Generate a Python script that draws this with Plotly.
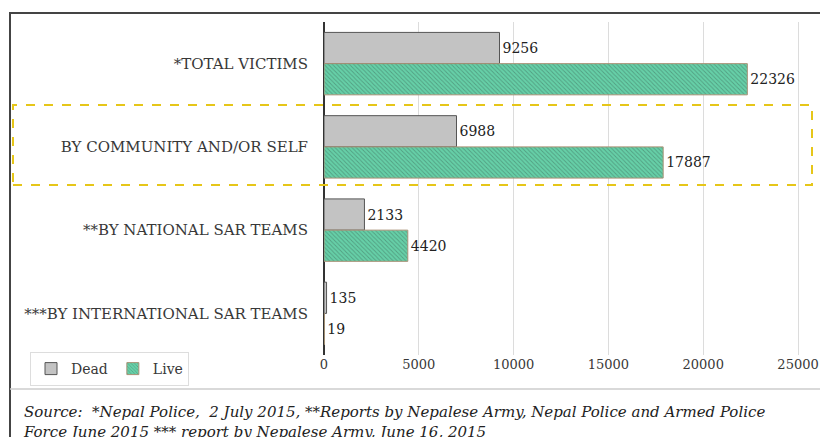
import plotly.graph_objects as go

categories = ["*TOTAL VICTIMS", "BY COMMUNITY AND/OR SELF", "**BY NATIONAL SAR TEAMS", "***BY INTERNATIONAL SAR TEAMS"]
dead = [9256, 6988, 2133, 135]
live = [22326, 17887, 4420, 19]
x_ticks = [0, 5000, 10000, 15000, 20000, 25000]
source_text = ("Source:  *Nepal Police,  2 July 2015, **Reports by Nepalese Army, Nepal Police and Armed Police<br>"
               "Force June 2015 *** report by Nepalese Army, June 16, 2015")

OFF = 8  # page body margin
W, H = 828 - OFF, 437 - OFF
# target pixel geometry in the screenshot
PLOT_L, PLOT_R, PLOT_T, PLOT_B = 324, 817, 22, 355
ML, MR = PLOT_L - OFF, 828 - PLOT_R
MT, MB = PLOT_T - OFF, 437 - PLOT_B
PW, PH = PLOT_R - PLOT_L, PLOT_B - PLOT_T

def px(x):
    return (x - PLOT_L) / PW

def py(y):
    return (PLOT_B - y) / PH

FONT = "DejaVu Serif"
TXT = "#383838"

fig = go.Figure()
fig.add_trace(go.Bar(
    y=categories, x=dead, name="Dead", orientation="h",
    marker=dict(color="#c3c3c3", line=dict(color="#555555", width=1)),
    text=[str(v) for v in dead], textposition="outside", cliponaxis=False,
    textfont=dict(family=FONT, size=14, color="#222222"),
))
fig.add_trace(go.Bar(
    y=categories, x=live, name="Live", orientation="h",
    marker=dict(color="#66d0a8", line=dict(color="#a89276", width=1),
                pattern=dict(shape="\\", fgcolor="#3f6e5c", bgcolor="#66d0a8", size=3, solidity=0.3)),
    text=[str(v) for v in live], textposition="outside", cliponaxis=False,
    textfont=dict(family=FONT, size=14, color="#222222"),
))

fig.update_layout(
    width=W, height=H, margin=dict(l=ML, r=MR, t=MT, b=MB, autoexpand=False),
    paper_bgcolor="white", plot_bgcolor="white",
    barmode="group", bargap=0.25, bargroupgap=0,
    font=dict(family=FONT, size=14, color=TXT),
    showlegend=True,
    legend=dict(orientation="h", x=px(30), y=py(352), xanchor="left", yanchor="top",
                bordercolor="#dddddd", borderwidth=1, bgcolor="white",
                font=dict(family=FONT, size=14, color=TXT), traceorder="normal",
                itemwidth=30, entrywidthmode="pixels"),
    xaxis=dict(range=[0, 26000], tickvals=x_ticks, ticktext=[str(t) for t in x_ticks],
               showgrid=True, gridcolor="#dcdcdc", gridwidth=1,
               zeroline=True, zerolinecolor="#333333", zerolinewidth=1.5,
               showline=False, ticks="", tickfont=dict(family=FONT, size=13, color=TXT)),
    yaxis=dict(autorange="reversed", showgrid=False, showline=False, ticks="",
               ticklabelstandoff=15, tickfont=dict(family=FONT, size=15, color=TXT)),
)

shapes = [
    dict(type="rect", xref="paper", yref="paper", x0=px(10), x1=px(850), y0=py(460), y1=py(13),
         line=dict(color="#444444", width=2), layer="below"),
    dict(type="line", xref="paper", yref="paper", x0=px(10), x1=px(850), y0=py(389), y1=py(389),
         line=dict(color="#cccccc", width=1.5)),
    dict(type="rect", xref="paper", yref="paper", x0=px(13), x1=px(812), y0=py(185), y1=py(105),
         line=dict(color="#e6c619", width=2, dash="dash")),
]
fig.update_layout(shapes=shapes)

fig.add_annotation(text=source_text, xref="paper", yref="paper", x=px(21), y=py(401),
                   xanchor="left", yanchor="top", align="left", showarrow=False,
                   font=dict(family=FONT, size=15, color="#222222", style="italic"))

fig.write_html("out.html")
